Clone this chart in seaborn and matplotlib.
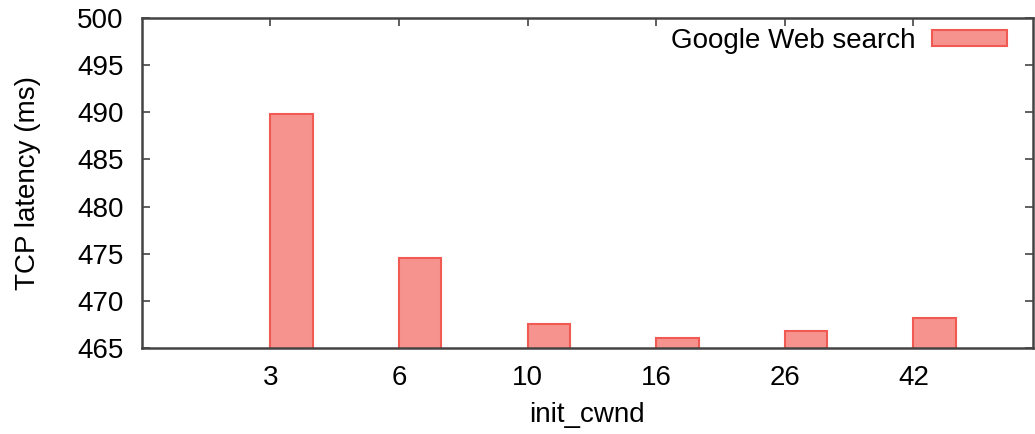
import numpy as np
import pandas as pd
import seaborn as sns
import matplotlib
matplotlib.use("Agg")
import matplotlib.pyplot as plt

categories = ["3", "6", "10", "16", "26", "42"]
latency = [489.8, 474.6, 467.5, 466.1, 466.8, 468.2]
series_name = "Google Web search"
y_ticks = [465, 470, 475, 480, 485, 490, 495, 500]

sns.set_theme(style="white")
plt.rcParams["font.family"] = ["Liberation Sans", "DejaVu Sans"]
plt.rcParams["text.color"] = "black"
plt.rcParams["axes.labelcolor"] = "black"
plt.rcParams["xtick.labelcolor"] = "black"
plt.rcParams["ytick.labelcolor"] = "black"

df = pd.DataFrame({"init_cwnd": categories, "latency": latency, "series": series_name})

fig = plt.figure(figsize=(10.35, 4.34), dpi=100)
ax = fig.add_axes([0.137, 0.198, 0.861, 0.7605])

w = 0.33
sns.barplot(data=df, x="init_cwnd", y="latency", hue="series", order=categories,
            palette=["#f7938e"], width=w, edgecolor="#f05a52", linewidth=1.5,
            saturation=1, ax=ax, legend=True)

# gnuplot-like: bar left edge sits at the tick
ax.set_xticks(np.arange(len(categories)) - w / 2)
ax.set_xticklabels(categories)
ax.set_xlim(-1 - w / 2, len(categories) - w / 2 - 0.07)
ax.set_ylim(465, 500)
ax.set_yticks(y_ticks)

fs = 20
ax.set_xlabel("init_cwnd", fontsize=fs, labelpad=8, color="black")
ax.set_ylabel("TCP latency (ms)", fontsize=fs, labelpad=26, color="black")
ax.tick_params(axis="both", labelsize=fs, direction="in", length=6, width=1.2,
               color="#444444", labelcolor="black",
               top=True, right=True, bottom=True, left=True)
ax.tick_params(axis="x", pad=12)
ax.tick_params(axis="y", pad=13)
for s in ax.spines.values():
    s.set_visible(True)
    s.set_color("#444444")
    s.set_linewidth(1.8)

leg = ax.legend(loc="upper right", frameon=False, fontsize=fs, markerfirst=False,
                handlelength=2.7, handleheight=0.55, handletextpad=0.6,
                borderaxespad=0, borderpad=0, bbox_to_anchor=(0.971, 0.97))
for t in leg.get_texts():
    t.set_color("black")

fig.savefig("out.png", dpi=100)
